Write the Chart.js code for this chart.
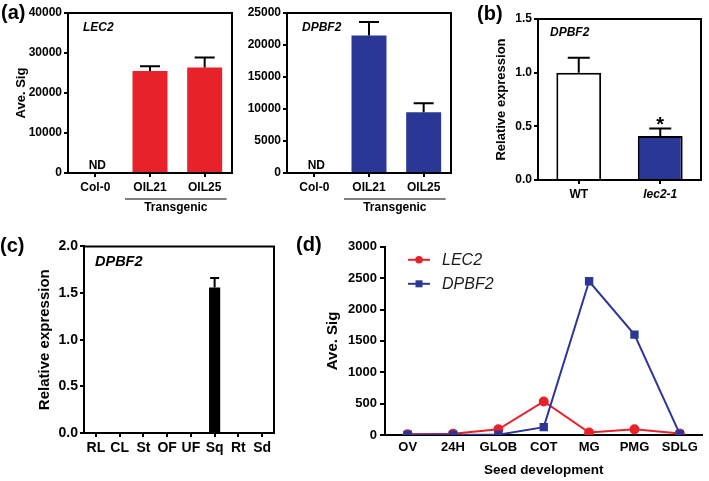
<!DOCTYPE html>
<html>
<head>
<meta charset="utf-8">
<script src="https://cdn.jsdelivr.net/npm/chart.js@4.4.1/dist/chart.umd.min.js"></script>
<style>
  body { margin: 0; width: 709px; height: 481px; position: relative; background: #fff; overflow: hidden;
         font-family: 'Liberation Sans', Arial, sans-serif; }
  canvas { position: absolute; }
  .lab { position: absolute; font-weight: bold; font-size: 20px; line-height: 20px; color: #000; }
</style>
</head>
<body>
<canvas id="a1" style="left:0;top:0" width="238" height="225"></canvas>
<canvas id="a2" style="left:236px;top:0" width="222" height="225"></canvas>
<canvas id="b" style="left:458px;top:0" width="251" height="225"></canvas>
<canvas id="c" style="left:0;top:236px" width="290" height="245"></canvas>
<canvas id="d" style="left:290px;top:236px" width="419" height="245"></canvas>
<div class="lab" style="left:1px;top:2px">(a)</div>
<div class="lab" style="left:477px;top:3px">(b)</div>
<div class="lab" style="left:0;top:235px">(c)</div>
<div class="lab" style="left:296px;top:234px">(d)</div>
<script>
const FONT = "'Liberation Sans', Arial, sans-serif";
const RED = '#e8222a';
const BLUE = '#2b3794';

// (a) microarray signal in transgenic lines
const tgLabels = ['Col-0', 'OIL21', 'OIL25'];
const lec2Sig = [0, 25500, 26400];
const lec2Err = [0, 1200, 2500];
const dpbf2Sig = [0, 21500, 9500];
const dpbf2Err = [0, 2100, 1400];

// (b) qPCR in lec2-1
const bLabels = ['WT', 'lec2-1'];
const bValues = [1.0, 0.41];
const bErr = [0.14, 0.07];

// (c) tissue expression
const cLabels = ['RL', 'CL', 'St', 'OF', 'UF', 'Sq', 'Rt', 'Sd'];
const cValues = [0, 0, 0, 0, 0, 1.56, 0, 0];
const cErr = [0, 0, 0, 0, 0, 0.10, 0, 0];

// (d) seed development
const dLabels = ['OV', '24H', 'GLOB', 'COT', 'MG', 'PMG', 'SDLG'];
const dLec2 = [10, 20, 90, 535, 40, 90, 25];
const dDpbf2 = [5, 5, 5, 125, 2450, 1600, 15];

const errorBars = {
  id: 'errorBars',
  afterDatasetsDraw(chart, args, opts) {
    const ctx = chart.ctx;
    const y = chart.scales.y;
    const values = chart.data.datasets[0].data;
    ctx.save();
    ctx.strokeStyle = '#000';
    ctx.lineWidth = 2;
    chart.getDatasetMeta(0).data.forEach((bar, i) => {
      const err = opts.errors[i];
      if (!err) return;
      const top = y.getPixelForValue(values[i] + err);
      ctx.beginPath();
      ctx.moveTo(bar.x, bar.y);
      ctx.lineTo(bar.x, top);
      ctx.moveTo(bar.x - opts.cap / 2, top);
      ctx.lineTo(bar.x + opts.cap / 2, top);
      ctx.stroke();
    });
    ctx.restore();
  }
};

const frame = {
  id: 'frame',
  afterDraw(chart) {
    const { ctx, chartArea: a } = chart;
    ctx.save();
    ctx.strokeStyle = '#000';
    ctx.lineWidth = 2;
    ctx.beginPath();
    ctx.moveTo(a.left, a.top);
    ctx.lineTo(a.right, a.top);
    ctx.lineTo(a.right, a.bottom);
    ctx.stroke();
    ctx.restore();
  }
};

function text(ctx, s, x, y, font, align) {
  ctx.font = font;
  ctx.fillStyle = '#000';
  ctx.textAlign = align || 'left';
  ctx.textBaseline = 'middle';
  ctx.fillText(s, x, y);
}

function barPanel(id, o) {
  return new Chart(document.getElementById(id), {
    type: 'bar',
    data: {
      labels: o.labels,
      datasets: [{
        data: o.values,
        backgroundColor: o.colors,
        borderColor: '#000',
        borderWidth: o.borderWidth || 0,
        barPercentage: o.barPct,
        categoryPercentage: 1
      }]
    },
    options: {
      responsive: false,
      animation: false,
      layout: { padding: o.padding },
      plugins: {
        legend: { display: false },
        tooltip: { enabled: false },
        errorBars: { errors: o.errors, cap: o.cap }
      },
      scales: {
        x: {
          grid: { display: true, drawOnChartArea: false, offset: false, tickLength: 4, color: '#000', lineWidth: 2 },
          border: { display: true, color: '#000', width: 2 },
          ticks: { color: '#000', padding: 3, autoSkip: false, maxRotation: 0, minRotation: 0,
                   font: o.xFont || { family: FONT, size: o.fontSize, weight: 'bold' } },
          afterFit(s) { s.height = o.xHeight; }
        },
        y: {
          min: 0, max: o.max,
          grid: { display: true, drawOnChartArea: false, tickLength: 4, color: '#000', lineWidth: 2 },
          border: { display: true, color: '#000', width: 2 },
          ticks: { stepSize: o.step, color: '#000', padding: 2,
                   font: { family: FONT, size: o.fontSize, weight: 'bold' },
                   callback: o.tickFmt },
          title: { display: !!o.yTitle, text: o.yTitle, color: '#000',
                   font: { family: FONT, size: o.titleSize, weight: 'bold' },
                   padding: { top: o.titlePad, bottom: 0 } },
          afterFit(s) { s.width = o.yWidth; }
        }
      }
    },
    plugins: [errorBars, frame, { id: 'notes', afterDraw: o.notes }]
  });
}

function transgenicNotes(gene) {
  return (chart) => {
    const { ctx, chartArea: a, scales: { x } } = chart;
    text(ctx, gene, a.left + 15, a.top + 15, `italic bold 12px ${FONT}`);
    text(ctx, 'ND', x.getPixelForValue(0) + 2, a.bottom - 7, `bold 12px ${FONT}`, 'center');
    const x1 = x.getPixelForValue(1) - 25, x2 = x.getPixelForValue(2) + 22;
    ctx.save();
    ctx.strokeStyle = '#000';
    ctx.lineWidth = 1.2;
    ctx.beginPath();
    ctx.moveTo(x1, a.bottom + 26);
    ctx.lineTo(x2, a.bottom + 26);
    ctx.stroke();
    ctx.restore();
    text(ctx, 'Transgenic', (x1 + x2) / 2, a.bottom + 35, `bold 12px ${FONT}`, 'center');
  };
}

const intFmt = v => String(v);
const decFmt = v => v.toFixed(1);

barPanel('a1', {
  labels: tgLabels, values: lec2Sig, errors: lec2Err, colors: RED,
  barPct: 0.64, cap: 20, max: 40000, step: 10000, tickFmt: intFmt,
  fontSize: 12, yTitle: 'Ave. Sig', titleSize: 13, titlePad: 14,
  padding: { top: 13, right: 6, left: 0, bottom: 0 }, yWidth: 68, xHeight: 52,
  notes: transgenicNotes('LEC2')
});

barPanel('a2', {
  labels: tgLabels, values: dpbf2Sig, errors: dpbf2Err, colors: BLUE,
  barPct: 0.64, cap: 20, max: 25000, step: 5000, tickFmt: intFmt,
  fontSize: 12, yTitle: '', titleSize: 13, titlePad: 0,
  padding: { top: 13, right: 7, left: 0, bottom: 0 }, yWidth: 51, xHeight: 52,
  notes: transgenicNotes('DPBF2')
});

barPanel('b', {
  labels: bLabels, values: bValues, errors: bErr, colors: ['#ffffff', BLUE], borderWidth: 2,
  barPct: 0.55, cap: 22, max: 1.5, step: 0.5, tickFmt: decFmt,
  fontSize: 12, yTitle: 'Relative expression', titleSize: 13, titlePad: 36,
  padding: { top: 19, right: 8, left: 0, bottom: 0 }, yWidth: 80, xHeight: 45,
  xFont: (c) => ({ family: FONT, size: 12, weight: 'bold', style: c.index === 1 ? 'italic' : 'normal' }),
  notes: (chart) => {
    const { ctx, chartArea: a, scales: { x, y } } = chart;
    text(ctx, 'DPBF2', a.left + 12, a.top + 14, `italic bold 12px ${FONT}`);
    ctx.font = `bold 20px ${FONT}`;
    ctx.textAlign = 'center';
    ctx.textBaseline = 'alphabetic';
    ctx.fillText('*', x.getPixelForValue(1), y.getPixelForValue(bValues[1] + bErr[1]) + 3);
  }
});

barPanel('c', {
  labels: cLabels, values: cValues, errors: cErr, colors: '#000',
  barPct: 0.47, cap: 9, max: 2.0, step: 0.5, tickFmt: decFmt,
  fontSize: 14, yTitle: 'Relative expression', titleSize: 15, titlePad: 36,
  padding: { top: 8, right: 16, left: 0, bottom: 0 }, yWidth: 84, xHeight: 48,
  notes: (chart) => {
    const { ctx, chartArea: a } = chart;
    text(ctx, 'DPBF2', a.left + 11, a.top + 16, `italic bold 14.5px ${FONT}`);
  }
});

const lineLegend = {
  id: 'lineLegend',
  afterDraw(chart) {
    const { ctx, chartArea: a } = chart;
    chart.data.datasets.forEach((ds, i) => {
      const yy = a.top + 13 + i * 24;
      const x0 = a.left + 23;
      ctx.save();
      ctx.strokeStyle = ds.borderColor;
      ctx.fillStyle = ds.borderColor;
      ctx.lineWidth = 2;
      ctx.beginPath();
      ctx.moveTo(x0, yy);
      ctx.lineTo(x0 + 22, yy);
      ctx.stroke();
      if (ds.pointStyle === 'rect') {
        ctx.fillRect(x0 + 11 - 3.5, yy - 3.5, 7, 7);
      } else {
        ctx.beginPath();
        ctx.arc(x0 + 11, yy, 3.8, 0, Math.PI * 2);
        ctx.fill();
      }
      ctx.restore();
      ctx.font = `italic 16px ${FONT}`;
      ctx.fillStyle = '#1a1a1a';
      ctx.textAlign = 'left';
      ctx.textBaseline = 'middle';
      ctx.fillText(ds.label, x0 + 34, yy + 1);
    });
  }
};

new Chart(document.getElementById('d'), {
  type: 'line',
  data: {
    labels: dLabels,
    datasets: [
      { label: 'LEC2', data: dLec2, borderColor: RED, backgroundColor: RED, borderWidth: 2,
        pointStyle: 'circle', pointRadius: 4, order: 2 },
      { label: 'DPBF2', data: dDpbf2, borderColor: BLUE, backgroundColor: BLUE, borderWidth: 2,
        pointStyle: 'rect', pointRadius: 4.5, order: 1 }
    ]
  },
  options: {
    responsive: false,
    animation: false,
    layout: { padding: { top: 8, right: 4, left: 0, bottom: 0 } },
    plugins: { legend: { display: false }, tooltip: { enabled: false } },
    scales: {
      x: {
        offset: true,
        grid: { display: false, drawTicks: false },
        border: { display: true, color: '#000', width: 2 },
        ticks: { color: '#000', padding: 5, autoSkip: false, maxRotation: 0,
                 font: { family: FONT, size: 13, weight: 'bold' } },
        title: { display: true, text: 'Seed development', color: '#000',
                 font: { family: FONT, size: 13.5, weight: 'bold' }, padding: { top: 0, bottom: 3 } },
        afterFit(s) { s.height = 46; }
      },
      y: {
        min: 0, max: 3000,
        grid: { display: true, drawOnChartArea: false, tickLength: 5, color: '#000', lineWidth: 2 },
        border: { display: true, color: '#000', width: 2 },
        ticks: { stepSize: 500, color: '#000', padding: 3, font: { family: FONT, size: 13, weight: 'bold' },
                 callback: intFmt },
        title: { display: true, text: 'Ave. Sig', color: '#000',
                 font: { family: FONT, size: 15, weight: 'bold' }, padding: { top: 34, bottom: 0 } },
        afterFit(s) { s.width = 95; }
      }
    }
  },
  plugins: [lineLegend]
});
</script>
</body>
</html>
